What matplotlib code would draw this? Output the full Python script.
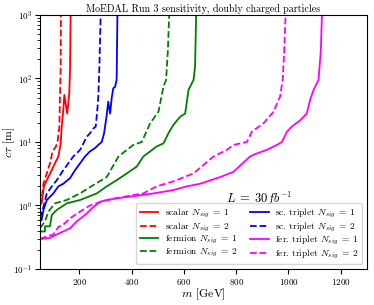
"""
MoEDAL Run 3 sensitivity for doubly charged particles.
"""
import matplotlib
matplotlib.use("Agg")
import matplotlib.pyplot as plt

plt.rcParams['font.family'] = 'serif'
plt.rcParams['font.serif'] = ['cmr10', 'DejaVu Serif']
plt.rcParams['mathtext.fontset'] = 'cm'
plt.rcParams['axes.formatter.use_mathtext'] = True

# scalar
scalar1_m = [50, 56, 65, 76, 95, 107, 120, 129, 133, 139, 143, 154, 162, 165, 167]
scalar1_c = [1.05, 1.1, 2.0, 2.5, 3.6, 4.6, 5.9, 9.5, 17.5, 31.6, 55, 28, 59, 155, 1000]
scalar2_m = [50, 55, 63, 76, 88, 98, 111, 118, 124, 126, 129, 130]
scalar2_c = [1.0, 1.1, 2.2, 3.2, 4.6, 7.1, 8.5, 10.7, 17.5, 46, 155, 1000]

# scalar triplet
sct1_m = [50, 56, 63, 76, 101, 120, 139, 165, 184, 203, 222, 241, 260, 273, 286,
          295, 305, 311, 318, 324, 330, 337, 343, 346]
sct1_c = [0.56, 0.59, 0.85, 1.22, 1.55, 2.0, 2.2, 2.7, 3.6, 4.6, 5.9, 7.1, 8.0, 9.0,
          10, 13.7, 26.6, 43, 28, 49, 70, 74, 95, 1000]
sct2_m = [50, 63, 76, 95, 114, 139, 158, 177, 203, 216, 229, 241, 254, 263, 269,
          273, 277, 282]
sct2_c = [0.63, 0.95, 1.55, 2.0, 2.5, 3.6, 4.6, 5.9, 7.5, 9.5, 12.1, 13.7, 16.3,
          17.5, 31.6, 52, 155, 1000]

# fermion
ferm1_m = [50, 69, 69, 88, 95, 114, 152, 203, 267, 305, 343, 382, 420, 445, 471,
           496, 522, 541, 560, 586, 605, 618, 637, 643, 647]
ferm1_c = [0.39, 0.39, 0.47, 0.47, 0.71, 0.85, 1.08, 1.22, 1.55, 2.0, 2.5, 3.2,
           4.1, 5.9, 7.1, 8.5, 9.5, 13.7, 18.6, 25, 28, 66, 95, 155, 1000]
ferm2_m = [50, 69, 82, 107, 152, 203, 254, 305, 350, 382, 407, 439, 471, 503, 522,
           532, 539, 544]
ferm2_c = [0.44, 0.56, 0.8, 1.08, 1.22, 1.55, 2.1, 2.8, 5.9, 7.5, 9.0, 10, 19.6,
           30, 74, 95, 282, 1000]

# fermion triplet
fert1_m = [50, 88, 114, 139, 165, 190, 222, 248, 280, 343, 407, 484, 560, 611,
           662, 739, 790, 853, 879, 917, 956, 975, 994, 1013, 1045, 1070, 1083,
           1096, 1115, 1124, 1128]
fert1_c = [0.295, 0.31, 0.35, 0.39, 0.44, 0.56, 0.71, 0.9, 1.15, 1.3, 1.4, 1.55,
           1.75, 2.0, 2.2, 2.8, 3.4, 5.9, 6.6, 7.5, 9.0, 10, 14.5, 17.5, 22, 28,
           46, 66, 95, 282, 1000]
fert2_m = [50, 101, 120, 139, 165, 203, 241, 305, 382, 445, 496, 560, 637, 713,
           764, 790, 841, 860, 904, 943, 968, 978, 984, 989]
fert2_c = [0.30, 0.35, 0.46, 0.5, 0.63, 0.8, 1.0, 1.22, 1.4, 1.55, 2.0, 2.4, 3.2,
           5.9, 7.5, 9.0, 10, 14.5, 19.6, 30, 52, 95, 282, 1000]

fig = plt.figure(figsize=(3.74, 3.05), dpi=100)
ax = fig.add_axes([0.107, 0.118, 0.874, 0.833])

lw = 1.3
ax.plot(scalar1_m, scalar1_c, color="red", lw=lw, label=r"scalar $N_{sig}\;=\;1$")
ax.plot(scalar2_m, scalar2_c, color="red", lw=lw, ls="--", label=r"scalar $N_{sig}\;=\;2$")
ax.plot(ferm1_m, ferm1_c, color="green", lw=lw, label=r"fermion $N_{sig}\;=\;1$")
ax.plot(ferm2_m, ferm2_c, color="green", lw=lw, ls="--", label=r"fermion $N_{sig}\;=\;2$")
ax.plot(sct1_m, sct1_c, color="blue", lw=lw, label=r"sc. triplet $N_{sig}\;=\;1$")
ax.plot(sct2_m, sct2_c, color="blue", lw=lw, ls="--", label=r"sc. triplet $N_{sig}\;=\;2$")
ax.plot(fert1_m, fert1_c, color="magenta", lw=lw, label=r"fer. triplet $N_{sig}\;=\;1$")
ax.plot(fert2_m, fert2_c, color="magenta", lw=lw, ls="--", label=r"fer. triplet $N_{sig}\;=\;2$")

ax.set_yscale("log")
ax.set_xlim(50, 1300)
ax.set_ylim(0.1, 1000)
ax.set_xticks([200, 400, 600, 800, 1000, 1200])
ax.tick_params(labelsize=6.5, pad=2)
ax.set_xlabel(r"$m$ [GeV]", fontsize=8.5, labelpad=0)
ax.set_ylabel(r"$c\tau$ [m]", fontsize=8.5)
ax.yaxis.set_label_coords(-0.07, 0.5)
ax.set_title("MoEDAL Run 3 sensitivity, doubly charged particles", fontsize=7.2, pad=2)

ax.text(0.67, 0.276, r"$L\;=\;30fb^{-1}$", transform=ax.transAxes, fontsize=9,
        ha="center", va="center")
ax.legend(ncol=2, loc="lower right", fontsize=6.8, handlelength=2.0,
          handletextpad=0.7, columnspacing=1.3, labelspacing=0.05,
          borderpad=0.35, borderaxespad=0.5)

fig.savefig("out.png", dpi=100)
